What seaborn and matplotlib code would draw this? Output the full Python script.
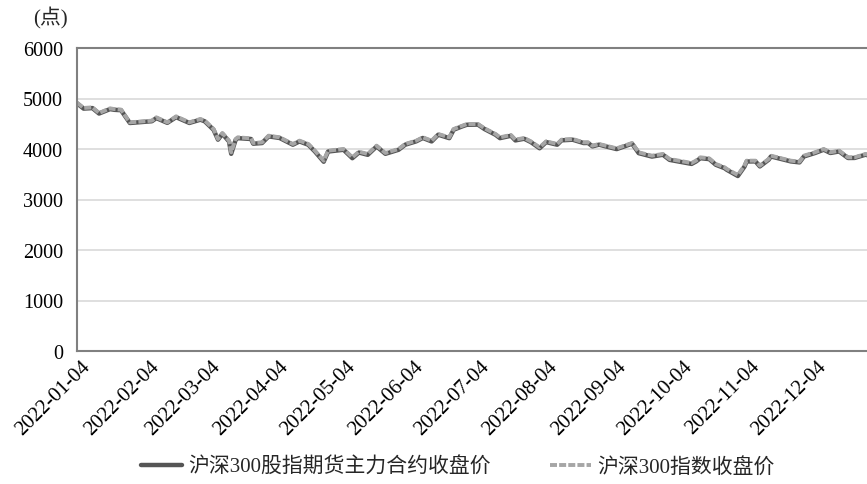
import pandas as pd
import seaborn as sns
import matplotlib.pyplot as plt
import matplotlib.transforms as mtransforms

dates = [
    "2022-01-04", "2022-01-07", "2022-01-11", "2022-01-14", "2022-01-19", "2022-01-21",
    "2022-01-24", "2022-01-26", "2022-01-28", "2022-02-07", "2022-02-09", "2022-02-14",
    "2022-02-18", "2022-02-24", "2022-03-01", "2022-03-03", "2022-03-07", "2022-03-09",
    "2022-03-11", "2022-03-14", "2022-03-15", "2022-03-17", "2022-03-18", "2022-03-24",
    "2022-03-25", "2022-03-29", "2022-04-01", "2022-04-06", "2022-04-12", "2022-04-15",
    "2022-04-19", "2022-04-22", "2022-04-26", "2022-04-28", "2022-05-05", "2022-05-09",
    "2022-05-12", "2022-05-16", "2022-05-20", "2022-05-24", "2022-05-30", "2022-06-02",
    "2022-06-07", "2022-06-10", "2022-06-14", "2022-06-17", "2022-06-22", "2022-06-24",
    "2022-06-28", "2022-06-30", "2022-07-05", "2022-07-08", "2022-07-13", "2022-07-15",
    "2022-07-20", "2022-07-22", "2022-07-26", "2022-07-29", "2022-08-02", "2022-08-05",
    "2022-08-10", "2022-08-12", "2022-08-17", "2022-08-22", "2022-08-24", "2022-08-26",
    "2022-08-29", "2022-09-01", "2022-09-06", "2022-09-13", "2022-09-16", "2022-09-22",
    "2022-09-27", "2022-09-30", "2022-10-10", "2022-10-12", "2022-10-14", "2022-10-18",
    "2022-10-21", "2022-10-25", "2022-10-26", "2022-10-31", "2022-11-03", "2022-11-04",
    "2022-11-08", "2022-11-10", "2022-11-14", "2022-11-15", "2022-11-21", "2022-11-24",
    "2022-11-28", "2022-11-30", "2022-12-05", "2022-12-09", "2022-12-12", "2022-12-16",
    "2022-12-20", "2022-12-23", "2022-12-28", "2022-12-30",
]

# 沪深300指数收盘价
index_close = [
    4918, 4812, 4825, 4713, 4805, 4790, 4780, 4650, 4528, 4561, 4627, 4528,
    4647, 4528, 4594, 4561, 4396, 4198, 4317, 4165, 3934, 4198, 4231, 4211,
    4119, 4132, 4264, 4231, 4099, 4165, 4099, 3967, 3769, 3967, 4000, 3835,
    3947, 3901, 4066, 3921, 4000, 4099, 4165, 4231, 4165, 4297, 4231, 4396,
    4462, 4495, 4495, 4409, 4297, 4231, 4277, 4185, 4218, 4152, 4033, 4152,
    4099, 4185, 4198, 4132, 4132, 4066, 4099, 4066, 4013, 4119, 3934, 3868,
    3901, 3802, 3723, 3769, 3835, 3815, 3703, 3637, 3604, 3485, 3670, 3769,
    3769, 3670, 3802, 3868, 3802, 3769, 3749, 3868, 3934, 4000, 3934, 3967,
    3835, 3835, 3901, 3872,
]

# 沪深300股指期货主力合约收盘价
futures_close = [
    4905, 4800, 4810, 4702, 4790, 4776, 4768, 4640, 4515, 4550, 4612, 4518,
    4630, 4516, 4580, 4548, 4380, 4185, 4300, 4150, 3905, 4180, 4215, 4198,
    4105, 4118, 4250, 4218, 4085, 4150, 4084, 3950, 3748, 3950, 3985, 3818,
    3930, 3885, 4050, 3905, 3985, 4085, 4152, 4218, 4150, 4283, 4215, 4382,
    4450, 4480, 4483, 4395, 4282, 4215, 4262, 4170, 4203, 4138, 4015, 4137,
    4085, 4172, 4184, 4118, 4120, 4052, 4086, 4052, 3998, 4105, 3918, 3850,
    3886, 3785, 3705, 3752, 3818, 3800, 3688, 3620, 3588, 3465, 3650, 3752,
    3755, 3655, 3788, 3852, 3788, 3755, 3735, 3852, 3920, 3986, 3921, 3952,
    3822, 3823, 3888, 3860,
]

tick_dates = ["2022-%02d-04" % m for m in range(1, 13)]
y_ticks = [0, 1000, 2000, 3000, 4000, 5000, 6000]

label_fut = "沪深300股指期货主力合约收盘价"
label_idx = "沪深300指数收盘价"

df = pd.DataFrame({
    "date": pd.to_datetime(dates),
    "futures": futures_close,
    "index": index_close,
})

sns.set_theme(style="white")
plt.rcParams["font.family"] = ["Liberation Serif", "Noto Sans CJK SC"]

fig = plt.figure(figsize=(8.67, 4.85), dpi=100)
ax = fig.add_axes([77 / 867, 133 / 485, 793 / 867, 303 / 485])

sns.lineplot(data=df, x="date", y="futures", ax=ax, color="#555555",
             linewidth=3.2, label=label_fut)
sns.lineplot(data=df, x="date", y="index", ax=ax, color="#a6a6a6",
             linewidth=2.8, linestyle=(0, (1.8, 0.55)), label=label_idx)

ax.set_xlim(pd.Timestamp("2022-01-04"), pd.Timestamp("2022-12-30"))
ax.set_ylim(0, 6000)
ax.set_yticks(y_ticks)
ax.set_yticklabels([str(v) for v in y_ticks])
ax.set_xticks(pd.to_datetime(tick_dates))
ax.set_xticklabels(tick_dates, rotation=45, ha="right", va="top",
                   rotation_mode="anchor")
ax.set_xlabel("")
ax.set_ylabel("")

ax.yaxis.grid(True, color="#d9d9d9", linewidth=1.2)
ax.xaxis.grid(False)
for side in ["left", "bottom", "top"]:
    ax.spines[side].set_color("#808080")
    ax.spines[side].set_linewidth(1.5)
ax.spines["right"].set_visible(False)

ax.tick_params(axis="x", direction="in", length=4, width=1.2, color="#808080",
               labelsize=15, pad=4, labelcolor="black")
ax.tick_params(axis="y", length=0, labelsize=14.5, pad=10, labelcolor="black")

offset = mtransforms.ScaledTranslation(4 / 100, 0, fig.dpi_scale_trans)
for lab in ax.get_xticklabels():
    lab.set_transform(lab.get_transform() + offset)

handles, labels = ax.get_legend_handles_labels()
ax.get_legend().remove()
fig.legend(handles, labels, loc="center", bbox_to_anchor=(0.528, 0.035),
           ncol=2, frameon=False, fontsize=15, handlelength=2.0,
           handletextpad=0.3, columnspacing=2.8)

fig.text(33 / 867, 1 - 18 / 485, "(点)", ha="left", va="center", fontsize=15)

fig.savefig("out.png", dpi=100)
